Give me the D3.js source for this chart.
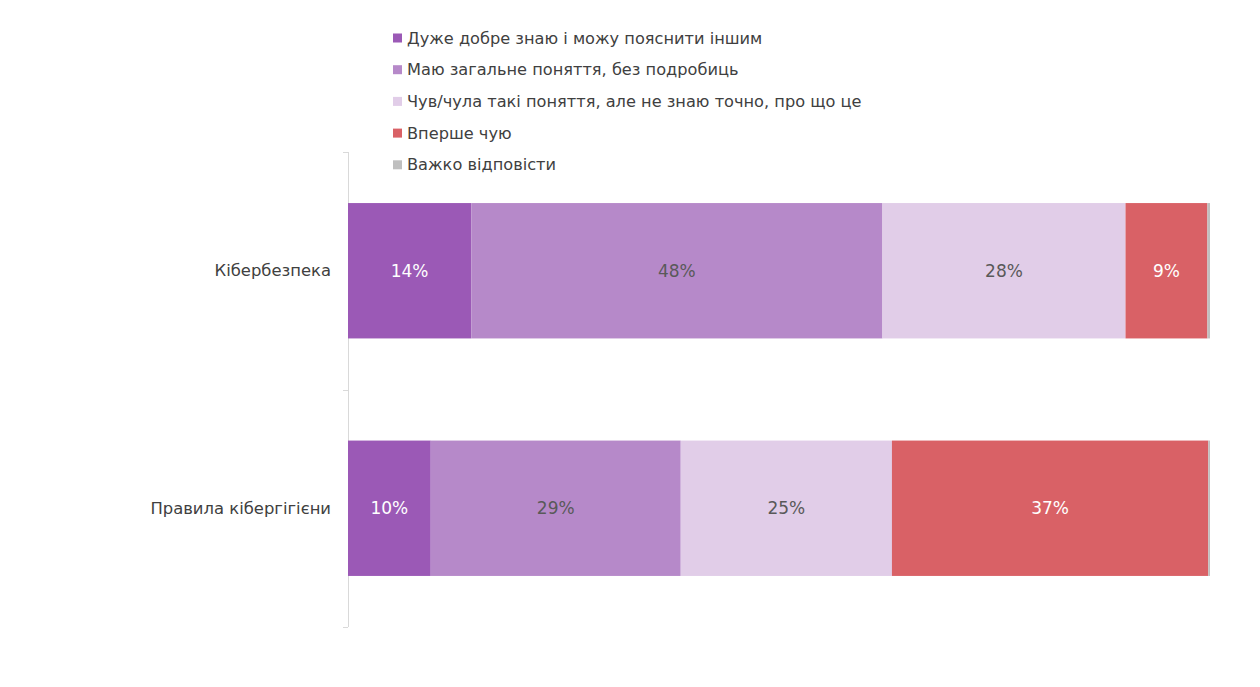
<!DOCTYPE html>
<meta charset="utf-8">
<script src="https://cdn.jsdelivr.net/npm/d3@7"></script>
<style>
  body { margin: 0; background: #fff; }
  text { font-family: "DejaVu Sans", sans-serif; }
</style>
<body>
<script>
// categories (top to bottom)
var categories = ["Кібербезпека", "Правила кібергігієни"];
// answer options, in stacking order
var series = [
  "Дуже добре знаю і можу пояснити іншим",
  "Маю загальне поняття, без подробиць",
  "Чув/чула такі поняття, але не знаю точно, про що це",
  "Вперше чую",
  "Важко відповісти"
];
var colors = ["#9b59b6", "#b689c9", "#e1cde8", "#d96166", "#bfbfbf"];
var labelColors = ["#ffffff", "#595959", "#595959", "#ffffff", "#595959"];
// percent values per series, one per category
var veryWell = [14.3, 9.6];
var general = [47.7, 29.0];
var heard = [28.2, 24.5];
var firstTime = [9.5, 36.7];
var hardToSay = [0.3, 0.2];
var shown = [["14%", "10%"], ["48%", "29%"], ["28%", "25%"], ["9%", "37%"], ["", ""]];

var values = [veryWell, general, heard, firstTime, hardToSay];

var W = 1260, H = 687;
var svg = d3.select("body").append("svg").attr("width", W).attr("height", H);

var x = d3.scaleLinear().domain([0, 100]).range([348, 1210]);
var y = d3.scaleBand().domain(categories).range([152, 627]).paddingInner(0.43).paddingOuter(0.215);

// build stacked rows
var rows = categories.map(function(c, i) {
  var r = {cat: c};
  series.forEach(function(s, k) { r[s] = values[k][i]; });
  return r;
});
var stack = d3.stack().keys(series)(rows);

// axis line with ticks at band boundaries
svg.append("line")
  .attr("x1", 348.5).attr("x2", 348.5)
  .attr("y1", 152).attr("y2", 627)
  .attr("stroke", "#d9d9d9");
var bounds = [152, 389.5, 627];
svg.selectAll(".tk").data(bounds).enter().append("line")
  .attr("x1", 343).attr("x2", 348)
  .attr("y1", function(d) { return Math.round(d) + 0.5; })
  .attr("y2", function(d) { return Math.round(d) + 0.5; })
  .attr("stroke", "#d9d9d9");

var layers = svg.selectAll(".layer").data(stack).enter().append("g")
  .attr("fill", function(d, k) { return colors[k]; });

layers.selectAll("rect").data(function(d) { return d; }).enter().append("rect")
  .attr("x", function(d) { return x(d[0]); })
  .attr("width", function(d) { return x(d[1]) - x(d[0]); })
  .attr("y", function(d) { return y(d.data.cat); })
  .attr("height", y.bandwidth());

layers.each(function(layer, k) {
  d3.select(this).selectAll("text").data(layer).enter().append("text")
    .attr("x", function(d) { return (x(d[0]) + x(d[1])) / 2; })
    .attr("y", function(d) { return y(d.data.cat) + y.bandwidth() / 2; })
    .attr("dy", "0.35em")
    .attr("text-anchor", "middle")
    .attr("font-size", 17)
    .attr("fill", labelColors[k])
    .text(function(d, i) { return shown[k][i]; });
});

// category labels
svg.selectAll(".cat").data(categories).enter().append("text")
  .attr("x", 331)
  .attr("y", function(d) { return y(d) + y.bandwidth() / 2; })
  .attr("dy", "0.35em")
  .attr("text-anchor", "end")
  .attr("font-size", 16.4)
  .attr("fill", "#404040")
  .text(function(d) { return d; });

// legend
var leg = svg.selectAll(".leg").data(series).enter().append("g")
  .attr("transform", function(d, i) { return "translate(393," + (38 + i * 31.7) + ")"; });
leg.append("rect")
  .attr("x", 0).attr("y", -4.5).attr("width", 9).attr("height", 9)
  .attr("fill", function(d, i) { return colors[i]; });
leg.append("text")
  .attr("x", 14).attr("dy", "0.35em")
  .attr("font-size", 16.2)
  .attr("fill", "#404040")
  .text(function(d) { return d; });
</script>
</body>
</html>
